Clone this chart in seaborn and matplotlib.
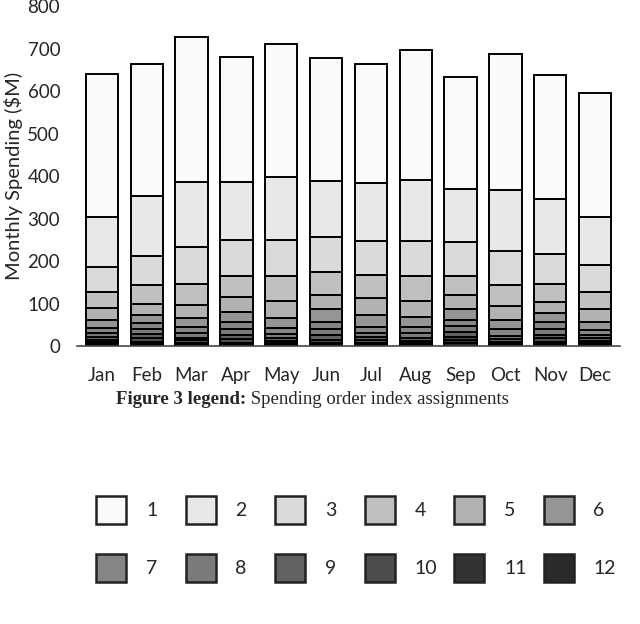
import numpy as np
import pandas as pd
import matplotlib
matplotlib.use("Agg")
import matplotlib.pyplot as plt
from matplotlib.patches import Rectangle
import seaborn as sns

months = ["Jan", "Feb", "Mar", "Apr", "May", "Jun", "Jul", "Aug", "Sep", "Oct", "Nov", "Dec"]

# spending per order index (1 = top of the stack, 12 = bottom)
idx1 = [337, 311, 341, 294, 314, 291, 281, 306, 265, 320, 292, 291]
idx2 = [116, 141, 153, 138, 149, 132, 136, 143, 125, 143, 129, 113]
idx3 = [61, 70, 88, 83, 84, 81, 80, 84, 78, 80, 70, 64]
idx4 = [37, 43, 49, 50, 58, 55, 56, 57, 47, 50, 42, 41]
idx5 = [28, 27, 30, 35, 40, 34, 38, 38, 32, 33, 27, 29]
idx6 = [18, 18, 22, 24, 24, 29, 29, 25, 25, 22, 21, 19]
idx7 = [13, 16, 15, 18, 14, 18, 14, 14, 15, 15, 17, 12]
idx8 = [8, 11, 10, 13, 10, 14, 9, 10, 13, 8, 12, 8]
idx9 = [7, 10, 7, 10, 7, 11, 8, 8, 12, 7, 9, 6]
idx10 = [5, 8, 5, 8, 5, 8, 6, 6, 9, 3, 8, 6]
idx11 = [5, 5, 4, 4, 4, 3, 4, 3, 7, 3, 5, 3]
idx12 = [5, 5, 4, 4, 3, 3, 4, 3, 6, 3, 5, 3]

layers = [idx1, idx2, idx3, idx4, idx5, idx6, idx7, idx8, idx9, idx10, idx11, idx12]
labels = [str(i) for i in range(1, 13)]
colors = ["#FBFAF8", "#E8E8E8", "#DADADA", "#C0C0C0", "#B2B2B2", "#959595",
          "#858585", "#7A7A7A", "#626262", "#4C4C4C", "#333333", "#2A2A2A"]

df = pd.DataFrame({lab: vals for lab, vals in zip(labels, layers)})
df["month"] = months

sns.set_style("white")
plt.rcParams["font.family"] = ["Lato", "DejaVu Sans"]

fig = plt.figure(figsize=(6.4, 6.24), dpi=100)
ax = fig.add_axes([0.12, 0.4455, 0.849, 0.5445])

# stack from the bottom (index 12) to the top (index 1)
bottom = np.zeros(len(months))
for lab, col in zip(labels[::-1], colors[::-1]):
    sns.barplot(data=df, x="month", y=lab, color=col, bottom=bottom,
                edgecolor="black", linewidth=1.4, width=0.72, ax=ax,
                saturation=1)
    bottom = bottom + df[lab].to_numpy()

ax.set_ylim(0, 800)
ax.set_xlim(-0.56, 11.56)
ax.set_yticks(range(0, 801, 100))
ax.set_xlabel("")
ax.set_ylabel("Monthly Spending ($M)", fontsize=14.5, labelpad=3)
ax.tick_params(axis="both", labelsize=13.5, length=0)
ax.tick_params(axis="y", pad=12)
ax.tick_params(axis="x", pad=15)
for s in ["top", "right", "left"]:
    ax.spines[s].set_visible(False)
ax.spines["bottom"].set_color("#444444")
ax.spines["bottom"].set_linewidth(1.2)

# caption
fig.text(0.385, 0.359, "Figure 3 legend:", fontsize=13.5, weight="bold",
         family="Liberation Serif", ha="right", va="center")
fig.text(0.385, 0.359, " Spending order index assignments", fontsize=13.5,
         family="Liberation Serif", ha="left", va="center")

# legend: two rows of six evenly spaced swatches (pixel units)
lax = fig.add_axes([0, 0, 1, 1], zorder=-1)
lax.set_xlim(0, 640)
lax.set_ylim(624, 0)
lax.axis("off")
for i, (lab, col) in enumerate(zip(labels, colors)):
    r, c = divmod(i, 6)
    x0 = 96 + 89.5 * c
    yc = 510 + 58 * r
    lax.add_patch(Rectangle((x0, yc - 14), 30, 28, facecolor=col,
                            edgecolor="#222222", linewidth=1.8))
    lax.text(x0 + 50, yc, lab, fontsize=14, ha="left", va="center")

fig.savefig("out.png", dpi=100)
